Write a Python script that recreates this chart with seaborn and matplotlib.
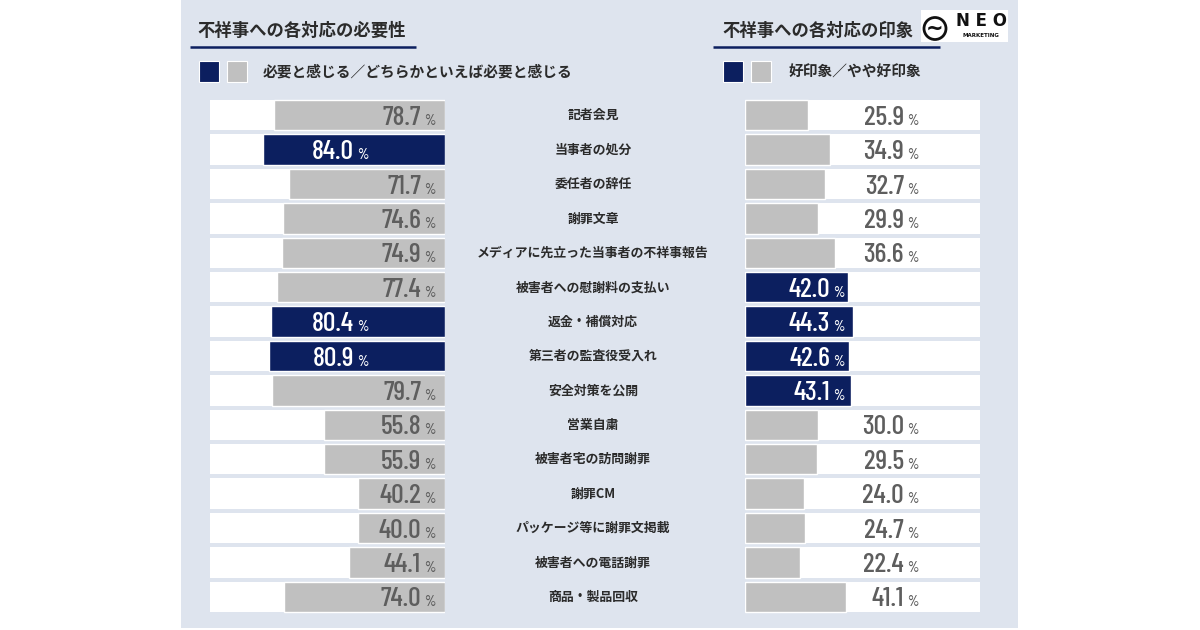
import numpy as np
import pandas as pd
import matplotlib
matplotlib.use("Agg")
import matplotlib.pyplot as plt
import matplotlib.transforms as mtransforms
from matplotlib.patches import Rectangle, Circle
import seaborn as sns

# データ
items = [
    "記者会見", "当事者の処分", "委任者の辞任", "謝罪文章",
    "メディアに先立った当事者の不祥事報告", "被害者への慰謝料の支払い",
    "返金・補償対応", "第三者の監査役受入れ", "安全対策を公開", "営業自粛",
    "被害者宅の訪問謝罪", "謝罪CM", "パッケージ等に謝罪文掲載",
    "被害者への電話謝罪", "商品・製品回収",
]
need_vals = [78.7, 84.0, 71.7, 74.6, 74.9, 77.4, 80.4, 80.9, 79.7,
             55.8, 55.9, 40.2, 40.0, 44.1, 74.0]
need_top = [False, True, False, False, False, False, True, True, False,
            False, False, False, False, False, False]
impr_vals = [25.9, 34.9, 32.7, 29.9, 36.6, 42.0, 44.3, 42.6, 43.1,
             30.0, 29.5, 24.0, 24.7, 22.4, 41.1]
impr_top = [False, False, False, False, False, True, True, True, True,
            False, False, False, False, False, False]

title_left = "不祥事への各対応の必要性"
title_right = "不祥事への各対応の印象"
legend_left = "必要と感じる／どちらかといえば必要と感じる"
legend_right = "好印象／やや好印象"

NAVY = "#0c1f5f"
GRAY = "#c0c0c0"
PANEL = "#dee4ee"
TEXT = "#2b2b2b"
NUM = "#5e5e5e"

sns.set_theme(style="white")
plt.rcParams['font.family'] = ['Noto Sans CJK JP', 'DejaVu Sans']
NUMFONT = ['Barlow Condensed', 'DejaVu Sans']

W, H = 1200, 630
fig = plt.figure(figsize=(12, 6.3), dpi=100)
fig.patch.set_facecolor('white')

# 背景用の軸（ピクセル座標）
bg = fig.add_axes([0, 0, 1, 1], zorder=0)
bg.set_xlim(0, W)
bg.set_ylim(H, 0)
bg.axis('off')
bg.add_patch(Rectangle((181, 0), 837, 628, color=PANEL, lw=0))


def px_axes(x0, y0, x1, y1):
    a = fig.add_axes([x0 / W, 1 - y1 / H, (x1 - x0) / W, (y1 - y0) / H], zorder=1)
    a.patch.set_alpha(0)
    return a


ROW_TOP, ROW_BOT = 98, 614
ax_l = px_axes(210, ROW_TOP, 445, ROW_BOT)
ax_r = px_axes(745, ROW_TOP, 980, ROW_BOT)


def draw(ax, vals, tops, xmax, invert):
    df = pd.DataFrame({'item': items, 'value': vals,
                       'group': np.where(tops, 'top', 'rest')})
    sns.barplot(data=df, x='value', y='item', hue='group', order=items,
                palette={'top': NAVY, 'rest': GRAY}, dodge=False, width=0.88,
                orient='h', legend=False, edgecolor='white', linewidth=1,
                saturation=1, ax=ax)
    # 白いトラック
    ax.barh(np.arange(len(items)), [xmax] * len(items), height=0.88,
            color='white', lw=0, zorder=0)
    if invert:
        ax.set_xlim(xmax, 0)
    else:
        ax.set_xlim(0, xmax)
    ax.set_ylim(len(items) - 0.5, -0.5)
    ax.axis('off')


draw(ax_l, need_vals, need_top, 108.3, True)
draw(ax_r, impr_vals, impr_top, 96, False)


def value_labels(ax, vals, tops, x_top, x_rest):
    tr = mtransforms.blended_transform_factory(bg.transData, ax.transData)
    for i, (v, t) in enumerate(zip(vals, tops)):
        x = x_top if t else x_rest
        col = 'white' if t else NUM
        ax.text(x, i + 0.28, f"{v:.1f}", transform=tr, ha='right', va='baseline',
                fontsize=20, color=col, family=NUMFONT, fontweight='medium')
        ax.text(x + 3, i + 0.28, "%", transform=tr, ha='left', va='baseline',
                fontsize=10.5, color=col, family=NUMFONT, fontweight='medium')


value_labels(ax_l, need_vals, need_top, 354, 421)
value_labels(ax_r, impr_vals, impr_top, 830, 904)

# 項目名
tr_mid = mtransforms.blended_transform_factory(bg.transData, ax_l.transData)
for i, name in enumerate(items):
    ax_l.text(593, i, name, transform=tr_mid, ha='center', va='center',
              fontsize=9.3, fontweight='bold', color=TEXT, clip_on=False)

# タイトルと下線
bg.text(197, 31, title_left, ha='left', va='center', fontsize=12.5,
        fontweight='bold', color=TEXT)
bg.plot([190, 416], [46.5, 46.5], color=NAVY, lw=1.8, solid_capstyle='butt')
bg.text(722, 31, title_right, ha='left', va='center', fontsize=12.5,
        fontweight='bold', color=TEXT)
bg.plot([713, 940], [46.5, 46.5], color=NAVY, lw=1.8, solid_capstyle='butt')

# 凡例
for x0, x1, tx, label in [(199, 227, 263, legend_left), (723, 751, 788, legend_right)]:
    bg.add_patch(Rectangle((x0, 61), 20, 21, facecolor=NAVY, edgecolor='white', lw=0.8))
    bg.add_patch(Rectangle((x1, 61), 20, 21, facecolor=GRAY, edgecolor='white', lw=0.8))
    bg.text(tx, 72, label, ha='left', va='center', fontsize=10.6,
            fontweight='bold', color=TEXT)

# ロゴ
bg.add_patch(Rectangle((921, 10), 87, 32, color='white', lw=0))
bg.add_patch(Circle((935, 28.5), 11, fill=False, lw=2, ec='#111111'))
bg.text(935, 28.5, "~", ha='center', va='center', fontsize=15,
        fontweight='bold', color='#111111', family='DejaVu Sans')
bg.text(981, 21, "N E O", ha='center', va='center', fontsize=12,
        fontweight='bold', color='#111111', family='DejaVu Sans')
bg.text(981, 35.5, "MARKETING", ha='center', va='center', fontsize=4,
        fontweight='bold', color='#111111', family='DejaVu Sans')

fig.savefig("out.png", dpi=100, facecolor='white')
